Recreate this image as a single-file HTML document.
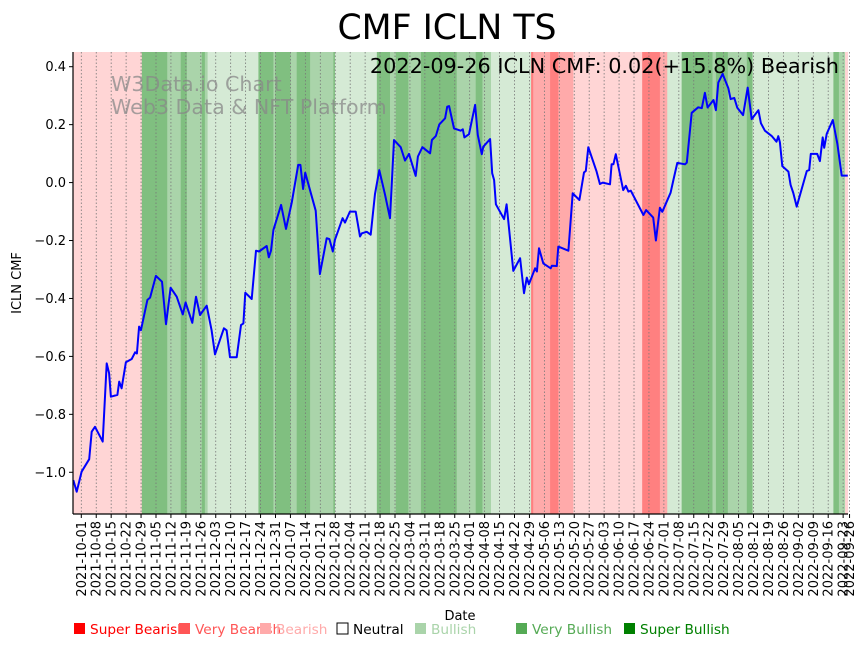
<!DOCTYPE html>
<html><head><meta charset="utf-8"><style>
html,body{margin:0;padding:0;background:#fff;}
svg{display:block;font-family:"DejaVu Sans","Liberation Sans",sans-serif;}
</style></head><body>
<svg id="chart" width="867" height="646" viewBox="0 0 867 646" xmlns="http://www.w3.org/2000/svg">
<rect x="0" y="0" width="867" height="646" fill="#fff"/>
<g id="bands"></g>
<g id="grid"></g>
<text x="111" y="91" font-size="20.6" fill="#888" fill-opacity="0.75">W3Data.io Chart</text>
<text x="111" y="114" font-size="20.6" fill="#888" fill-opacity="0.75">Web3 Data &amp; NFT Platform</text>
<g id="series"></g>
<g id="axes"></g>
<text x="447" y="39" font-size="34.7" text-anchor="middle" fill="#000">CMF ICLN TS</text>
<text x="839" y="73" font-size="20.8" text-anchor="end" fill="#000">2022-09-26 ICLN CMF: 0.02(+15.8%) Bearish</text>
<text transform="translate(21,283) rotate(-90)" font-size="13" text-anchor="middle">ICLN CMF</text>
<text x="460" y="620" font-size="13" text-anchor="middle">Date</text>
<g id="legend"></g>
</svg>
<script>
const idx=[0,1.1,2.7,5.2,6.0,7.1,9.6,10.9,11.7,12.3,14.4,15.0,15.8,17.2,19.1,20.2,20.8,21.5,22.1,24.2,25.1,27.0,29.0,30.3,31.8,33.8,35.8,36.7,38.9,40.1,41.4,43.6,45.2,46.3,49.2,50.1,51.2,53.4,54.8,55.6,56.2,58.3,59.7,60.7,63.2,63.9,64.6,65.4,67.9,69.5,71.4,73.5,74.2,75.1,75.8,79.2,80.6,82.8,83.7,84.8,85.5,88.0,88.8,90.4,92.3,93.7,94.3,95.9,97.2,98.6,100.0,101.9,103.5,104.8,107.0,108.4,109.7,111.9,112.6,114.1,116.6,117.2,118.5,119.6,121.5,122.2,122.8,124.4,126.6,127.3,127.8,129.3,131.3,132.2,133.5,134.0,136.2,136.9,137.5,138.1,140.8,141.6,143.8,146.0,147.3,148.2,148.9,150.9,151.5,152.2,153.6,156.0,156.4,158.0,158.5,161.8,163.2,165.4,166.9,167.5,168.3,171.0,172.1,173.0,175.4,175.9,176.5,177.3,179.7,180.6,181.4,182.2,186.3,187.2,189.5,190.4,191.7,192.5,195.2,196.1,197.4,199.9,200.5,202.1,204.2,205.4,206.4,207.3,209.2,210.0,210.8,212.2,214.1,214.8,216.0,217.0,218.9,220.4,221.7,223.9,224.7,226.0,228.2,229.8,230.4,230.9,231.7,233.7,234.4,235.3,236.4,239.7,240.5,241.0,243.1,244.0,244.9,245.4,246.2,248.2,249.7,251.1,253.1];
const cmf=[-1.027,-1.067,-0.998,-0.955,-0.86,-0.843,-0.894,-0.624,-0.658,-0.739,-0.733,-0.687,-0.71,-0.62,-0.609,-0.586,-0.59,-0.497,-0.51,-0.405,-0.397,-0.322,-0.342,-0.489,-0.363,-0.394,-0.455,-0.414,-0.484,-0.394,-0.457,-0.425,-0.51,-0.593,-0.503,-0.51,-0.603,-0.603,-0.492,-0.486,-0.38,-0.402,-0.235,-0.238,-0.219,-0.258,-0.235,-0.164,-0.077,-0.16,-0.068,0.061,0.061,-0.022,0.034,-0.097,-0.316,-0.192,-0.195,-0.238,-0.198,-0.123,-0.138,-0.1,-0.1,-0.186,-0.175,-0.17,-0.18,-0.039,0.043,-0.043,-0.123,0.147,0.122,0.076,0.099,0.023,0.09,0.122,0.101,0.147,0.161,0.201,0.222,0.262,0.264,0.187,0.179,0.184,0.156,0.167,0.268,0.164,0.098,0.124,0.15,0.032,0.009,-0.075,-0.126,-0.075,-0.305,-0.261,-0.382,-0.328,-0.351,-0.296,-0.307,-0.227,-0.279,-0.296,-0.287,-0.288,-0.221,-0.235,-0.037,-0.06,0.035,0.04,0.122,0.038,-0.005,0.0,-0.006,0.063,0.063,0.098,-0.026,-0.011,-0.031,-0.028,-0.112,-0.095,-0.121,-0.2,-0.087,-0.101,-0.035,0.009,0.068,0.063,0.069,0.241,0.26,0.257,0.31,0.259,0.285,0.25,0.345,0.375,0.325,0.288,0.292,0.258,0.233,0.328,0.219,0.25,0.205,0.179,0.161,0.141,0.16,0.139,0.057,0.038,-0.008,-0.036,-0.083,0.04,0.043,0.099,0.099,0.074,0.156,0.12,0.168,0.216,0.133,0.024,0.024];
const bandEdges=[0,22.4,30.7,35.1,37.1,42.0,43.0,43.9,60.5,65.4,66.0,71.0,73.0,77.4,85.0,85.5,99.2,103.5,105.4,109.5,113.6,125.3,131.5,133.7,136.5,149.6,150.3,155.8,158.5,163.4,185.9,191.7,194.1,198.8,208.9,210.0,213.9,220.1,222.0,248.4,250.2,252.2,253.1];
const bandLevels=[-1,3,2,3,2,3,2,1,3,2,3,2,3,2,3,1,3,2,3,2,3,2,3,2,1,-3,-2,-3,-2,-1,-3,-2,1,3,2,3,2,3,1,3,2,-1];
const tickLabels=["2021-10-01","2021-10-08","2021-10-15","2021-10-22","2021-10-29","2021-11-05","2021-11-12","2021-11-19","2021-11-26","2021-12-03","2021-12-10","2021-12-17","2021-12-24","2021-12-31","2022-01-07","2022-01-14","2022-01-21","2022-01-28","2022-02-04","2022-02-11","2022-02-18","2022-02-25","2022-03-04","2022-03-11","2022-03-18","2022-03-25","2022-04-01","2022-04-08","2022-04-15","2022-04-22","2022-04-29","2022-05-06","2022-05-13","2022-05-20","2022-05-27","2022-06-03","2022-06-10","2022-06-17","2022-06-24","2022-07-01","2022-07-08","2022-07-15","2022-07-22","2022-07-29","2022-08-05","2022-08-12","2022-08-19","2022-08-26","2022-09-02","2022-09-09","2022-09-16","2022-09-23","2022-09-26"];
const tickDays=[0,7,14,21,28,35,42,49,56,63,70,77,84,91,98,105,112,119,126,133,140,147,154,161,168,175,182,189,196,203,210,217,224,231,238,245,252,259,266,273,280,287,294,301,308,315,322,329,336,343,350,357,360];
const yTicks=[0.4,0.2,0.0,-0.2,-0.4,-0.6,-0.8,-1.0];

const NS="http://www.w3.org/2000/svg";
const L=73,R=848,T=52,B=514;
const xi=i=>73.3+i*3.06;
const xd=d=>81.3+d*2.134;
const y=v=>66.7+(0.4-v)*289.7;
const bandColor={"-3":"#ff8080","-2":"#ffaaaa","-1":"#ffd5d5","1":"#d5ead5","2":"#aad4aa","3":"#80bf80"};
function mk(t,a,p){const e=document.createElementNS(NS,t);for(const k in a)e.setAttribute(k,a[k]);p.appendChild(e);return e;}

const gb=document.getElementById('bands');
for(let k=0;k<bandLevels.length;k++){
  const x0=xi(bandEdges[k]),x1=xi(bandEdges[k+1]);
  const r=mk('rect',{x:x0,y:T,width:Math.max(0,x1-x0)+0.3,height:B-T,fill:bandColor[bandLevels[k]]},gb);
  
  
}
const gg=document.getElementById('grid');
const ga=document.getElementById('axes');
tickDays.forEach((d,k)=>{
  const x=xd(d);
  const gl=mk('line',{x1:x,x2:x,y1:T,y2:B,stroke:'#777','stroke-width':0.8,'stroke-dasharray':'1.5,2'},gg);
  
  
  mk('line',{x1:x,x2:x,y1:B,y2:B+4,stroke:'#000','stroke-width':1},ga);
  const t=mk('text',{transform:`translate(${x+4.5},${B+7}) rotate(-90)`,'font-size':13,'text-anchor':'end'},ga);
  t.textContent=tickLabels[k];
  
  
});
yTicks.forEach(v=>{
  const yy=y(v);
  mk('line',{x1:L-4,x2:L,y1:yy,y2:yy,stroke:'#000','stroke-width':1},ga);
  const t=mk('text',{x:L-7,y:yy+4.5,'font-size':13,'text-anchor':'end'},ga);
  t.textContent=v.toFixed(1).replace('-','\u2212');
  
  
});
mk('line',{x1:L,x2:L,y1:T,y2:B,stroke:'#000','stroke-width':1.2},ga);
mk('line',{x1:L,x2:R,y1:B,y2:B,stroke:'#000','stroke-width':1.2},ga);

const gs=document.getElementById('series');
const pts=idx.map((i,k)=>xi(i).toFixed(1)+','+y(cmf[k]).toFixed(1)).join(' ');
const pl=mk('polyline',{points:pts,fill:'none',stroke:'#0000ff','stroke-width':2,'stroke-linejoin':'round'},gs);



const legendNames=["Super Bearish","Very Bearish","Bearish","Neutral","Bullish","Very Bullish","Super Bullish"];
const legendColors=["#ff0000","#ff5555","#ffaaaa","#ffffff","#aad4aa","#55aa55","#008000"];
const legendTextColors=["#ff0000","#ff5555","#ffaaaa","#000000","#aad4aa","#55aa55","#008000"];
const legendX=[74,179,260,337,415,516,624];
const glg=document.getElementById('legend');
legendNames.forEach((n,k)=>{
  const g=mk('g',{},glg);
  
  
  mk('rect',{x:legendX[k],y:623,width:11,height:11,fill:legendColors[k],stroke:k===3?'#000':'none','stroke-width':1},g);
  const t=mk('text',{x:legendX[k]+16,y:634,'font-size':13.7,fill:legendTextColors[k]},g);
  t.textContent=n;
});
</script>
</body></html>
